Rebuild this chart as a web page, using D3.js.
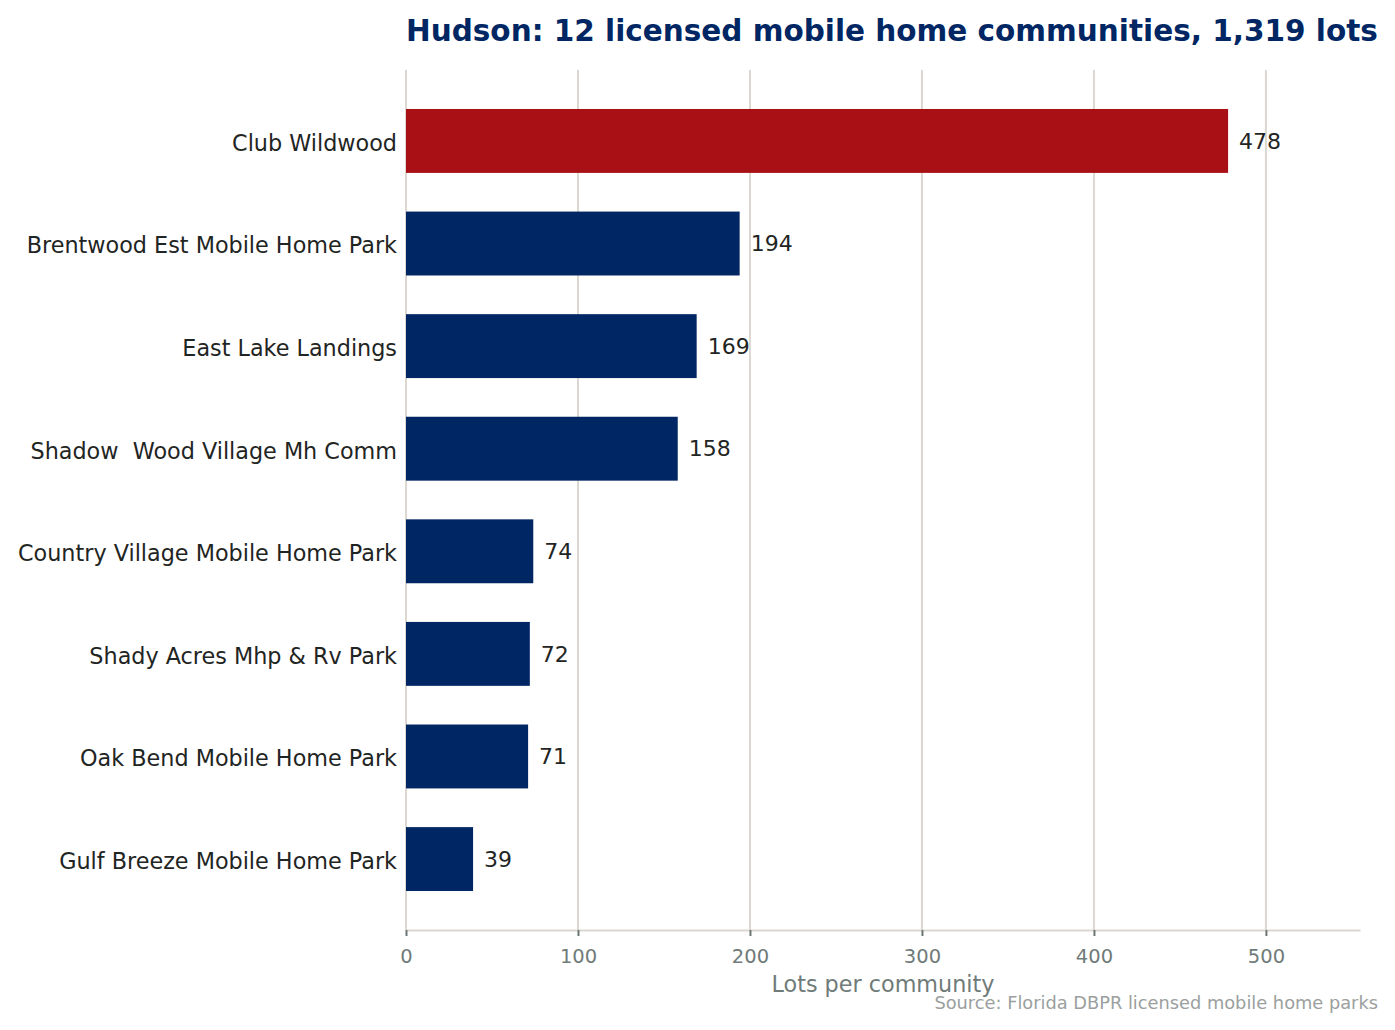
<!DOCTYPE html>
<html><head><meta charset="utf-8">
<script src="https://cdn.jsdelivr.net/npm/d3@7"></script>
<style>
html,body{margin:0;padding:0;background:#fff;}
text{font-family:"DejaVu Sans",sans-serif;white-space:pre;}
</style></head>
<body><svg id="c" width="1395" height="1030"></svg>
<script>
const categories = ["Club Wildwood","Brentwood Est Mobile Home Park","East Lake Landings","Shadow  Wood Village Mh Comm","Country Village Mobile Home Park","Shady Acres Mhp & Rv Park","Oak Bend Mobile Home Park","Gulf Breeze Mobile Home Park"];
const values = [478,194,169,158,74,72,71,39];
const highlight = [true,false,false,false,false,false,false,false];
const xTicks = [0,100,200,300,400,500];
const titleText = "Hudson: 12 licensed mobile home communities, 1,319 lots";
const xLabel = "Lots per community";
const sourceText = "Source: Florida DBPR licensed mobile home parks";

(function(){
const navy = "#002664", red = "#a81015";
const svg = d3.select("#c");
const pL = 406, pR = 1360, pT = 70, pB = 930;
const x = d3.scaleLinear().domain([0,554.7]).range([pL,pR]);
const y = d3.scaleBand().domain(categories).range([pT,pB]).paddingInner(0.377).paddingOuter(0.38);

svg.append("g").selectAll("line").data(xTicks).join("line")
  .attr("x1",d=>x(d)).attr("x2",d=>x(d)).attr("y1",pT).attr("y2",pB)
  .attr("stroke","#dcd8d0").attr("stroke-width",2);

svg.append("g").selectAll("rect").data(categories).join("rect")
  .attr("x",x(0)).attr("y",d=>y(d)).attr("height",y.bandwidth())
  .attr("width",(d,i)=>x(values[i])-x(0))
  .attr("fill",(d,i)=>highlight[i]?red:navy);

svg.append("g").selectAll("text").data(categories).join("text")
  .attr("x",(d,i)=>x(values[i])+11).attr("y",d=>y(d)+y.bandwidth()/2)
  .attr("dy","0.35em").attr("font-size",22).attr("fill","#1f2523")
  .text((d,i)=>values[i]);

svg.append("g").selectAll("text").data(categories).join("text")
  .attr("x",pL-9).attr("y",d=>y(d)+y.bandwidth()/2+2)
  .attr("dy","0.35em").attr("text-anchor","end").attr("font-size",22.3).attr("fill","#1f2523")
  .text(d=>d);

const xAxis = d3.axisBottom(x).tickValues(xTicks).tickSize(6).tickPadding(13).tickSizeOuter(0);
const ax = svg.append("g").attr("transform",`translate(0,${pB})`).call(xAxis);
ax.select(".domain").attr("stroke","#dcd8d0").attr("stroke-width",2);
ax.selectAll(".tick line").attr("stroke","#6b7775").attr("stroke-width",2);
ax.selectAll(".tick text").attr("font-size",19.5).attr("fill","#6f7b79").attr("font-family","DejaVu Sans");

svg.append("text").attr("x",(pL+pR)/2).attr("y",992).attr("text-anchor","middle")
  .attr("font-size",22.3).attr("fill","#6f7b79").text(xLabel);

svg.append("text").attr("x",1378).attr("y",1009).attr("text-anchor","end")
  .attr("font-size",17.8).attr("fill","#9aa09e").text(sourceText);

svg.append("text").attr("x",pL).attr("y",41)
  .attr("font-size",29.5).attr("font-weight","bold").attr("fill",navy).text(titleText);
})();
</script></body></html>
